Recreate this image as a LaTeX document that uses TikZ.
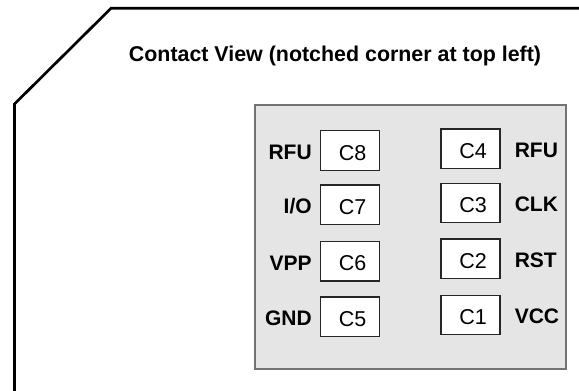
\documentclass[tikz,border=0pt]{standalone}
\usepackage{fontspec}
\setmainfont{Liberation Sans}
\usetikzlibrary{positioning}

\tikzset{
  contact/.style={draw=black!85, fill=white, line width=1.2pt, minimum width=59pt,
    minimum height=39.5pt, inner sep=0pt, font=\fontsize{21.5}{21.5}\selectfont,
    text height=19.4pt, text depth=0pt, execute at begin node=\hspace*{5pt}},
  pinname/.style={inner sep=0pt, font=\fontsize{21}{21}\selectfont\bfseries,
    text height=17.6pt, text depth=0pt}
}

\begin{document}
\begin{tikzpicture}[x=1pt,y=-1pt]
        \useasboundingbox (0,0) rectangle (579,391);
        % card outline, notch at top left
        \draw[line width=2.7pt] (14.5,395) -- (14.5,104) -- (111,8.3) -- (585,8.3);
        \node[font=\fontsize{21.4}{21.4}\selectfont\bfseries, anchor=base] (title) at (335,61.7) {Contact View (notched corner at top left)};
        % contact area
        \draw[draw=black!55, fill=black!10, line width=1.3pt] (255,105) rectangle (566,369);
        \node[contact] (c8) at (350,150.4) {C8};
        \node[contact] (c7) at (350,204.7) {C7};
        \node[contact] (c6) at (350,261.2) {C6};
        \node[contact] (c5) at (350,316.8) {C5};
        \node[contact] (c4) at (470.5,148.7) {C4};
        \node[contact] (c3) at (470.5,203) {C3};
        \node[contact] (c2) at (470.5,258.8) {C2};
        \node[contact] (c1) at (470.5,315) {C1};
        \node[pinname, left=8pt of c8] (l8) {RFU};
        \node[pinname, left=8pt of c7] (l7) {I/O};
        \node[pinname, left=8pt of c6] (l6) {VPP};
        \node[pinname, left=8pt of c5] (l5) {GND};
        \node[pinname, right=14pt of c4] (l4) {RFU};
        \node[pinname, right=14pt of c3] (l3) {CLK};
        \node[pinname, right=14pt of c2] (l2) {RST};
        \node[pinname, right=14pt of c1] (l1) {VCC};
    \end{tikzpicture}
\end{document}
